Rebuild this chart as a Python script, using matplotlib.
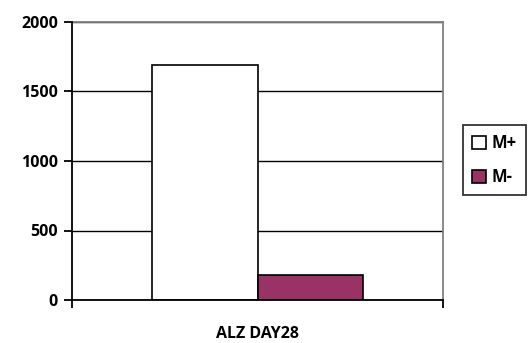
import matplotlib as mpl
import matplotlib.pyplot as plt
import numpy as np

mpl.rcParams.update({
    "font.family": ["Open Sans", "DejaVu Sans"],
    "font.weight": "bold",
    "font.size": 12,
})

category = ["ALZ DAY28"]
series = ["M+", "M-"]
values = [1690, 180]
colors = ["#ffffff", "#993366"]

fig = plt.figure(figsize=(5.29, 3.43), dpi=100)
ax = fig.add_axes([72 / 529, 1 - 300 / 343, 371 / 529, 278 / 343])

bar_w = 0.285
offsets = [-bar_w / 2, bar_w / 2]
handles = []
for name, val, col, off in zip(series, values, colors, offsets):
    b = ax.bar(0 + off, val, width=bar_w, color=col, edgecolor="black",
               linewidth=1.2, label=name, zorder=3)
    handles.append(b)

ax.set_xlim(-0.5, 0.5)
ax.set_ylim(0, 2000)
ax.set_yticks([0, 500, 1000, 1500, 2000])
ax.yaxis.grid(True, color="black", linewidth=1.0, zorder=0)
ax.set_axisbelow(True)

ax.set_xticks([0])
ax.set_xticklabels(category, fontweight="bold", fontsize=11.5)
ax.tick_params(axis="x", which="major", length=0, pad=19)
ax.set_xticks([-0.5, 0.5], minor=True)
ax.tick_params(axis="x", which="minor", length=6, width=1.3, direction="out", color="black")
ax.tick_params(axis="y", length=6, width=1.3, direction="out", pad=4, labelsize=11.5)
for lab in ax.get_yticklabels():
    lab.set_fontweight("bold")

for side in ["left", "bottom"]:
    ax.spines[side].set_color("black")
    ax.spines[side].set_linewidth(1.3)
    ax.spines[side].set_zorder(4)
for side in ["top", "right"]:
    ax.spines[side].set_color("#808080")
    ax.spines[side].set_linewidth(1.3)

leg = fig.legend(handles=handles, labels=series, loc="upper left",
                 bbox_to_anchor=(463 / 529, 1 - 125 / 343),
                 fancybox=False, frameon=True, edgecolor="black",
                 handlelength=0.85, handleheight=0.85, handletextpad=0.3,
                 borderpad=0.55, labelspacing=0.95, borderaxespad=0,
                 prop={"weight": "bold", "size": 12})
leg.get_frame().set_linewidth(1.3)

fig.savefig("out.png", dpi=100)
